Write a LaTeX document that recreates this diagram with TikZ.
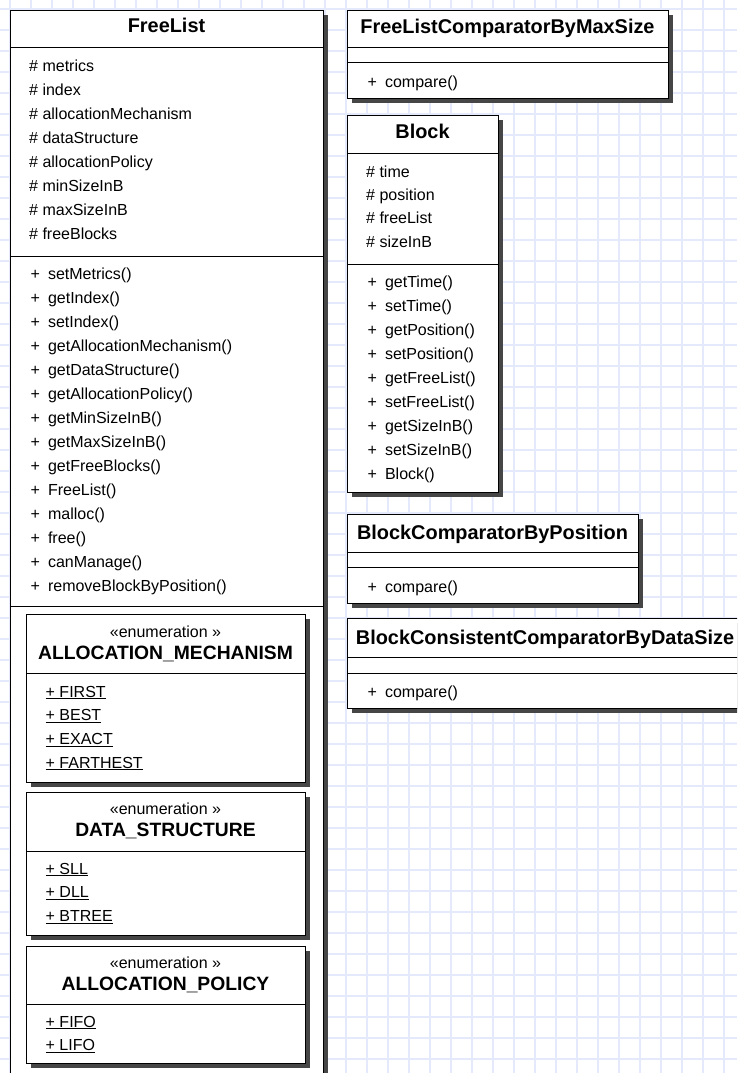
\documentclass[tikz,border=0pt]{standalone}
\usepackage{fontspec}
\setmainfont{Liberation Sans}
\usetikzlibrary{positioning, shadows}
\definecolor{gridblue}{RGB}{228, 233, 252}
\definecolor{shadegray}{RGB}{70, 70, 70}

\begin{document}
\begin{tikzpicture}[x=1pt, y=-1pt,
  umlbox/.style={draw, line width=1.3pt, fill=white, anchor=north west, inner sep=0pt,
    general shadow={fill=shadegray, shadow xshift=4pt, shadow yshift=-4pt}},
  sepline/.style={line width=0.9pt},
  clsname/.style={font=\fontsize{19.9}{22}\selectfont\bfseries, anchor=base, inner sep=0pt},
  enumname/.style={font=\fontsize{19.3}{22}\selectfont\bfseries, anchor=base, inner sep=0pt},
  stereo/.style={font=\fontsize{16}{18}\selectfont, anchor=base, inner sep=0pt},
  member/.style={font=\fontsize{16}{18}\selectfont, anchor=base west, inner sep=0pt}]

  \useasboundingbox (0,0) rectangle (737,1073);
  \clip (0,0) rectangle (737,1073);

  % Background grid
  \fill[white] (0,0) rectangle (737,1073);
  \foreach \gx in {10,31,...,740} \draw[gridblue, line width=1.3pt] (\gx,0) -- (\gx,1073);
  \foreach \gy in {9,30,...,1073} \draw[gridblue, line width=1.3pt] (0,\gy) -- (737,\gy);

  % FreeList
  \node[umlbox, minimum width=313pt, minimum height=1090pt] (freelist) at (10,10) {};
  \node[clsname] (freelistname) at (166.5,33) {FreeList};
  \draw[sepline] (freelist.west |- 0,47) -- (freelist.east |- 0,47);
  \foreach \txt [count=\i from 0] in {metrics, index, allocationMechanism, dataStructure,
      allocationPolicy, minSizeInB, maxSizeInB, freeBlocks}
    \node[member] (flattr\i) at (29,{71+24*\i}) {\#~\txt};
  \draw[sepline] (freelist.west |- 0,256) -- (freelist.east |- 0,256);
  \foreach \txt [count=\i from 0] in {setMetrics, getIndex, setIndex, getAllocationMechanism,
      getDataStructure, getAllocationPolicy, getMinSizeInB, getMaxSizeInB, getFreeBlocks,
      FreeList, malloc, free, canManage, removeBlockByPosition}
    \node[member] (flop\i) at (30.5,{279+24*\i}) {+\hspace{8pt}\txt()};
  \draw[sepline] (freelist.west |- 0,606) -- (freelist.east |- 0,606);

  % Nested enumerations
  \node[umlbox, minimum width=279pt, minimum height=168pt] (mechbox) at (26,614) {};
  \node[stereo] (mechstereo) at (165.5,637) {«enumeration »};
  \node[enumname] (mechname) at (165.5,659) {ALLOCATION\_MECHANISM};
  \draw[sepline] (mechbox.west |- 0,673) -- (mechbox.east |- 0,673);
  \foreach \txt [count=\i from 0] in {FIRST, BEST, EXACT, FARTHEST}
    \node[member] (mechlit\i) at (45.5,{697+23.7*\i}) {\underline{+ \txt}};

  \node[umlbox, minimum width=279pt, minimum height=143pt] (structbox) at (26,792) {};
  \node[stereo] (structstereo) at (165.5,814) {«enumeration »};
  \node[enumname] (structname) at (165.5,836) {DATA\_STRUCTURE};
  \draw[sepline] (structbox.west |- 0,851) -- (structbox.east |- 0,851);
  \foreach \txt [count=\i from 0] in {SLL, DLL, BTREE}
    \node[member] (structlit\i) at (45.5,{874+23.7*\i}) {\underline{+ \txt}};

  \node[umlbox, minimum width=279pt, minimum height=117pt] (policybox) at (26,946) {};
  \node[stereo] (policystereo) at (165.5,968) {«enumeration »};
  \node[enumname] (policyname) at (165.5,990) {ALLOCATION\_POLICY};
  \draw[sepline] (policybox.west |- 0,1004) -- (policybox.east |- 0,1004);
  \foreach \txt [count=\i from 0] in {FIFO, LIFO}
    \node[member] (policylit\i) at (45.5,{1027+23.7*\i}) {\underline{+ \txt}};

  % FreeListComparatorByMaxSize
  \node[umlbox, minimum width=321pt, minimum height=88pt] (flcmp) at (347,10) {};
  \node[clsname] (flcmpname) at (507.5,34) {FreeListComparatorByMaxSize};
  \draw[sepline] (flcmp.west |- 0,47) -- (flcmp.east |- 0,47);
  \draw[sepline] (flcmp.west |- 0,62) -- (flcmp.east |- 0,62);
  \node[member] (flcmpop) at (367.5,88) {+\hspace{8pt}compare()};

  % Block
  \node[umlbox, minimum width=151pt, minimum height=377pt] (block) at (347,115) {};
  \node[clsname] (blockname) at (422.5,138) {Block};
  \draw[sepline] (block.west |- 0,153) -- (block.east |- 0,153);
  \foreach \txt [count=\i from 0] in {time, position, freeList, sizeInB}
    \node[member] (blattr\i) at (366,{177+23.4*\i}) {\#~\txt};
  \draw[sepline] (block.west |- 0,264) -- (block.east |- 0,264);
  \foreach \txt [count=\i from 0] in {getTime, setTime, getPosition, setPosition,
      getFreeList, setFreeList, getSizeInB, setSizeInB, Block}
    \node[member] (blop\i) at (367.5,{287+24*\i}) {+\hspace{8pt}\txt()};

  % BlockComparatorByPosition
  \node[umlbox, minimum width=291pt, minimum height=89pt] (poscmp) at (347,514) {};
  \node[clsname] (poscmpname) at (492.5,539) {BlockComparatorByPosition};
  \draw[sepline] (poscmp.west |- 0,552) -- (poscmp.east |- 0,552);
  \draw[sepline] (poscmp.west |- 0,567) -- (poscmp.east |- 0,567);
  \node[member] (poscmpop) at (367.5,592) {+\hspace{8pt}compare()};

  % BlockConsistentComparatorByDataSize
  \node[umlbox, minimum width=396pt, minimum height=90pt] (sizecmp) at (347,618) {};
  \node[clsname] (sizecmpname) at (545,644) {BlockConsistentComparatorByDataSize};
  \draw[sepline] (sizecmp.west |- 0,657) -- (sizecmp.east |- 0,657);
  \draw[sepline] (sizecmp.west |- 0,673) -- (sizecmp.east |- 0,673);
  \node[member] (sizecmpop) at (367.5,697) {+\hspace{8pt}compare()};
\end{tikzpicture}
\end{document}
